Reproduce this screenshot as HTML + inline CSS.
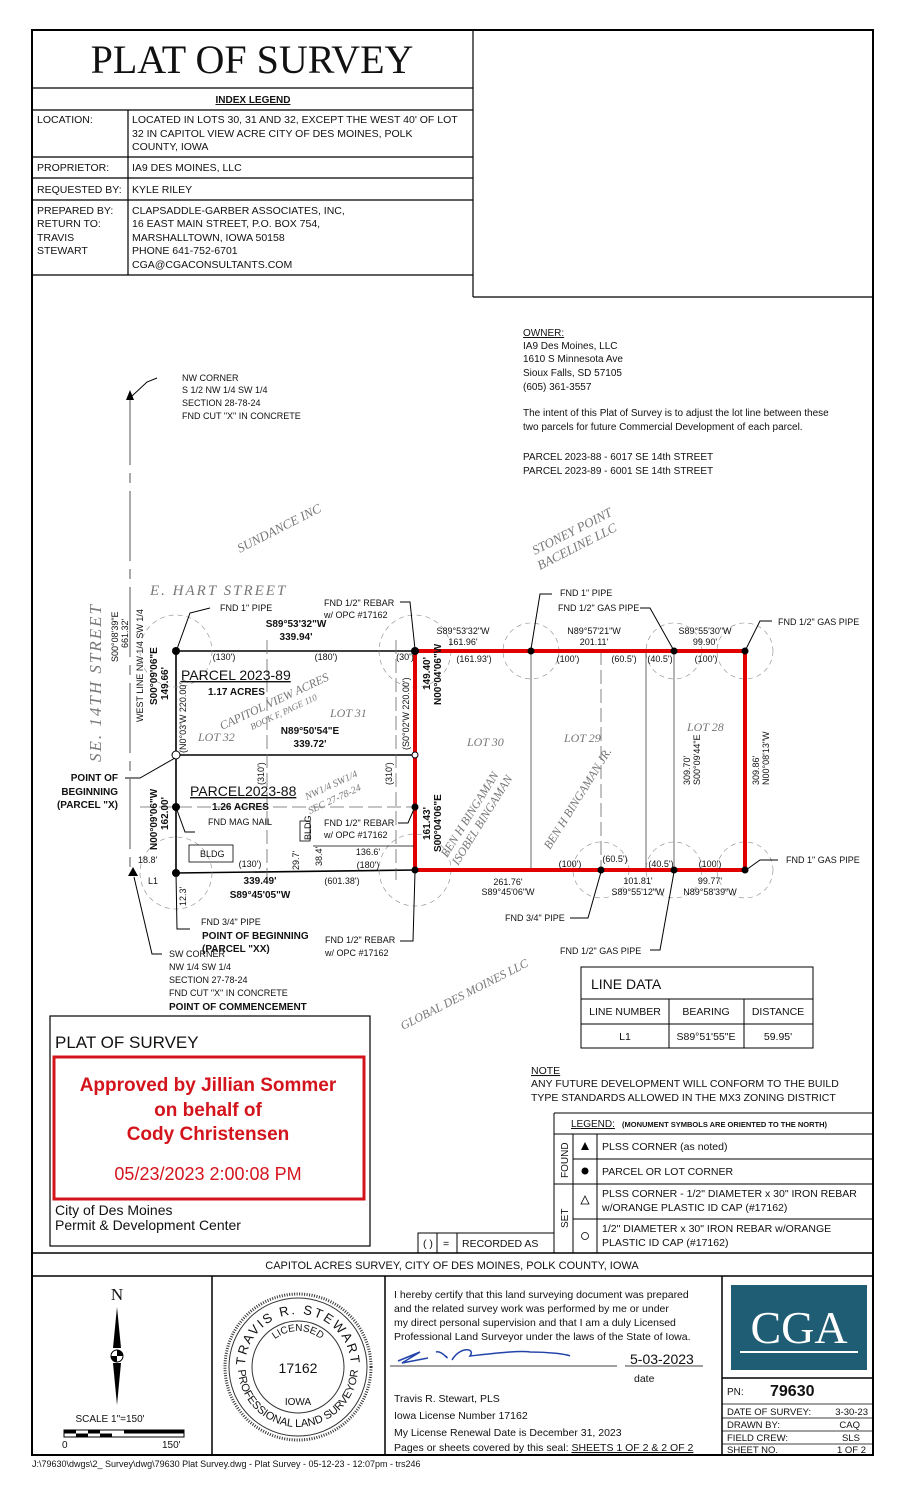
<!DOCTYPE html>
<html><head><meta charset="utf-8"><style>
html,body{margin:0;padding:0;background:#fff;}
svg{display:block;}
text{font-family:"Liberation Sans",sans-serif;fill:#111;}
.n{font-family:"Liberation Sans Narrow","Liberation Sans",sans-serif;font-size:9px;}
.b{font-weight:bold;}
.s{font-family:"Liberation Serif",serif;font-style:italic;fill:#777;}
</style></head><body>
<svg width="905" height="1500" viewBox="0 0 905 1500" xmlns="http://www.w3.org/2000/svg">
<rect x="0" y="0" width="905" height="1500" fill="#fff"/>
<rect x="32" y="30" width="841" height="1425" fill="none" stroke="#000" stroke-width="2"/>
<g stroke="#000" stroke-width="1.2" fill="none">
<line x1="473" y1="30" x2="473" y2="297"/>
<line x1="473" y1="297" x2="873" y2="297"/>
<line x1="32" y1="88" x2="473" y2="88"/>
<line x1="32" y1="110" x2="473" y2="110"/>
<line x1="32" y1="157" x2="473" y2="157"/>
<line x1="32" y1="178" x2="473" y2="178"/>
<line x1="32" y1="200" x2="473" y2="200"/>
<line x1="32" y1="275" x2="473" y2="275"/>
<line x1="128" y1="110" x2="128" y2="275"/>
</g>
<text x="252" y="73" text-anchor="middle" style="font-family:'Liberation Serif',serif;font-size:40px">PLAT OF SURVEY</text>
<text x="253" y="103" text-anchor="middle" class="b" font-size="10" text-decoration="underline">INDEX LEGEND</text>
<g font-size="10.5">
<text x="37" y="123">LOCATION:</text>
<text x="132" y="123">LOCATED IN LOTS 30, 31 AND 32, EXCEPT THE WEST 40' OF LOT</text>
<text x="132" y="137">32 IN CAPITOL VIEW ACRE CITY OF DES MOINES, POLK</text>
<text x="132" y="150">COUNTY, IOWA</text>
<text x="37" y="171">PROPRIETOR:</text>
<text x="132" y="171">IA9 DES MOINES, LLC</text>
<text x="37" y="193">REQUESTED BY:</text>
<text x="132" y="193">KYLE RILEY</text>
<text x="37" y="214">PREPARED BY:</text>
<text x="37" y="227">RETURN TO:</text>
<text x="37" y="241">TRAVIS</text>
<text x="37" y="254">STEWART</text>
<text x="132" y="214">CLAPSADDLE-GARBER ASSOCIATES, INC,</text>
<text x="132" y="227">16 EAST MAIN STREET, P.O. BOX 754,</text>
<text x="132" y="241">MARSHALLTOWN, IOWA 50158</text>
<text x="132" y="254">PHONE 641-752-6701</text>
<text x="132" y="268">CGA@CGACONSULTANTS.COM</text>
</g>
<g font-size="10">
<text x="523" y="336" text-decoration="underline">OWNER:</text>
<text x="523" y="349">IA9 Des Moines, LLC</text>
<text x="523" y="362">1610 S Minnesota Ave</text>
<text x="523" y="376">Sioux Falls, SD 57105</text>
<text x="523" y="390">(605) 361-3557</text>
<text x="523" y="416">The intent of this Plat of Survey is to adjust the lot line between these</text>
<text x="523" y="430">two parcels for future Commercial Development of each parcel.</text>
<text x="523" y="460">PARCEL 2023-88 - 6017 SE 14th STREET</text>
<text x="523" y="474">PARCEL 2023-89 - 6001 SE 14th STREET</text>
</g>
<line x1="130" y1="395" x2="130" y2="870" stroke="#555" stroke-width="1" stroke-dasharray="70,8,10,8"/>
<polygon points="130,390 126,400 134,400" fill="#000"/>
<polyline points="132,396 147,382 157,378" fill="none" stroke="#000"/>
<g class="n"><text x="182" y="381">NW CORNER</text><text x="182" y="393">S 1/2 NW 1/4 SW 1/4</text><text x="182" y="406">SECTION 28-78-24</text><text x="182" y="419">FND CUT "X" IN CONCRETE</text></g>
<text class="s" font-size="13" transform="translate(240,553) rotate(-27)">SUNDANCE INC</text>
<text class="s" font-size="13" transform="translate(535,555) rotate(-27)">STONEY POINT</text>
<text class="s" font-size="13" transform="translate(540,570) rotate(-27)">BACELINE LLC</text>
<text class="s" font-size="15" x="150" y="595" letter-spacing="2">E. HART STREET</text>
<text class="s" font-size="17" letter-spacing="2" transform="translate(101,762) rotate(-90)">SE. 14TH STREET</text>
<g class="n" font-size="8.5">
<text transform="translate(118,662) rotate(-90)">S00°08'39"E</text>
<text transform="translate(128,648) rotate(-90)">661.32'</text>
<text transform="translate(143,722) rotate(-90)">WEST LINE NW 1/4 SW 1/4</text>
</g>
<g stroke="#000" stroke-width="1.6" fill="none">
<line x1="176" y1="651" x2="415" y2="651"/>
<line x1="176" y1="651" x2="176" y2="873"/>
<line x1="176" y1="755" x2="415" y2="755"/>
<line x1="176" y1="873" x2="415" y2="870"/>
</g>
<g stroke="#666" stroke-width="0.8" fill="none" stroke-dasharray="14,5">
<line x1="267" y1="640" x2="267" y2="880"/>
<line x1="396" y1="640" x2="396" y2="880"/>
<line x1="140" y1="807" x2="415" y2="807"/>
<line x1="601" y1="651" x2="601" y2="870"/>
</g>
<g stroke="#888" stroke-width="0.6" fill="none" stroke-dasharray="5,4">
<circle cx="176" cy="651" r="36"/><circle cx="415" cy="651" r="36"/><circle cx="176" cy="873" r="36"/><circle cx="415" cy="870" r="36"/><circle cx="531" cy="651" r="28"/><circle cx="674" cy="651" r="28"/><circle cx="745" cy="651" r="28"/><circle cx="745" cy="870" r="28"/><circle cx="674" cy="870" r="28"/><circle cx="601" cy="870" r="28"/>
</g>
<g stroke="#444" stroke-width="0.8">
<line x1="531" y1="651" x2="531" y2="870"/><line x1="646" y1="651" x2="646" y2="870"/><line x1="674" y1="651" x2="674" y2="870"/>
</g>
<rect x="415" y="651" width="330" height="219" fill="none" stroke="#e00000" stroke-width="4"/>
<g fill="#000"><circle cx="176" cy="651" r="4"/><circle cx="415" cy="651" r="4"/><circle cx="176" cy="807" r="4"/><circle cx="176" cy="873" r="4"/><circle cx="415" cy="807" r="3.5"/><circle cx="415" cy="870" r="3.5"/><circle cx="531" cy="651" r="3.5"/><circle cx="674" cy="651" r="3.5"/><circle cx="745" cy="651" r="3.5"/><circle cx="601" cy="870" r="3.5"/><circle cx="674" cy="870" r="3.5"/><circle cx="745" cy="870" r="3.5"/>
<polygon points="133,867 128,876 138,876"/></g>
<circle cx="176" cy="755" r="4" fill="#fff" stroke="#000"/>
<circle cx="415" cy="755" r="3" fill="#fff" stroke="#000"/>
<g fill="none" stroke="#000" stroke-width="0.8">
<rect x="189" y="845" width="44" height="17"/>
<rect x="300" y="821" width="10" height="20"/>
<line x1="313" y1="846" x2="414" y2="846"/>
</g>
<g fill="none" stroke="#000" stroke-width="1">
<polyline points="177,649 190,613 210,608"/>
<polyline points="415,649 410,602 400,602"/>
<polyline points="531,649 540,594 552,594"/>
<polyline points="673,649 650,608 640,608"/>
<polyline points="746,649 760,621 772,621"/>
<polyline points="746,870 760,860 778,860"/>
<polyline points="601,872 588,918 570,918"/>
<polyline points="674,872 660,950 650,950"/>
<polyline points="415,872 413,941 400,941"/>
<polyline points="176,873 177,929 190,929"/>
<polyline points="134,877 152,954 162,954"/>
<polyline points="175,758 140,778 125,778"/>
<polyline points="177,810 185,832 195,832"/>
<polyline points="414,809 408,823 398,823"/>
</g>
<g class="n">
<text x="220" y="611">FND 1" PIPE</text>
<text x="324" y="606">FND 1/2" REBAR</text><text x="324" y="618">w/ OPC #17162</text>
<text x="296" y="627" class="b" font-size="10" text-anchor="middle">S89°53'32"W</text>
<text x="296" y="640" class="b" font-size="10" text-anchor="middle">339.94'</text>
<text x="224" y="660" text-anchor="middle">(130')</text><text x="326" y="660" text-anchor="middle">(180')</text><text x="405" y="660" text-anchor="middle">(30')</text>
<text x="310" y="734" class="b" font-size="10" text-anchor="middle">N89°50'54"E</text>
<text x="310" y="747" class="b" font-size="10" text-anchor="middle">339.72'</text>
<text x="208" y="825">FND MAG NAIL</text>
<text x="200" y="857">BLDG</text>
<text x="324" y="826">FND 1/2" REBAR</text><text x="324" y="838">w/ OPC #17162</text>
<text x="368" y="855" text-anchor="middle">136.6'</text>
<text x="368" y="868" text-anchor="middle">(180')</text>
<text x="250" y="867" text-anchor="middle">(130')</text>
<text x="342" y="884" text-anchor="middle">(601.38')</text>
<text x="260" y="884" class="b" font-size="10" text-anchor="middle">339.49'</text>
<text x="260" y="898" class="b" font-size="10" text-anchor="middle">S89°45'05"W</text>
<text x="138" y="863">18.8'</text>
<text x="148" y="884">L1</text>
<text x="201" y="925">FND 3/4" PIPE</text>
<text x="325" y="943">FND 1/2" REBAR</text><text x="325" y="956">w/ OPC #17162</text>
<text x="169" y="957">SW CORNER</text><text x="169" y="970">NW 1/4 SW 1/4</text><text x="169" y="983">SECTION 27-78-24</text><text x="169" y="996">FND CUT "X" IN CONCRETE</text>
<text transform="translate(186,906) rotate(-90)">12.3'</text>
<text transform="translate(299,870) rotate(-90)">29.7'</text>
<text transform="translate(322,866) rotate(-90)">38.4'</text>
<text transform="translate(311,840) rotate(-90)">BLDG</text>
<text transform="translate(186,753) rotate(-90)">(N0°03'W 220.00')</text>
<text transform="translate(409,750) rotate(-90)">(S0°02'W 220.00')</text>
<text transform="translate(264,785) rotate(-90)">(310')</text>
<text transform="translate(392,785) rotate(-90)">(310')</text>
</g>
<g class="b" font-size="10">
<text transform="translate(157,705) rotate(-90)">S00°09'06"E</text>
<text transform="translate(168,700) rotate(-90)">149.66'</text>
<text transform="translate(157,850) rotate(-90)">N00°09'06"W</text>
<text transform="translate(168,830) rotate(-90)">162.00'</text>
<text transform="translate(430,690) rotate(-90)">149.40'</text>
<text transform="translate(441,705) rotate(-90)">N00°04'06"W</text>
<text transform="translate(430,840) rotate(-90)">161.43'</text>
<text transform="translate(441,852) rotate(-90)">S00°04'06"E</text>
<text x="118" y="781" text-anchor="end">POINT OF</text>
<text x="118" y="795" text-anchor="end">BEGINNING</text>
<text x="118" y="808" text-anchor="end">(PARCEL "X)</text>
<text x="202" y="939">POINT OF BEGINNING</text>
<text x="202" y="952">(PARCEL "XX)</text>
<text x="169" y="1010">POINT OF COMMENCEMENT</text>
</g>
<text x="181" y="680" font-size="14" text-decoration="underline">PARCEL 2023-89</text>
<text x="208" y="695" font-size="10" class="b">1.17 ACRES</text>
<text x="190" y="796" font-size="14" text-decoration="underline">PARCEL2023-88</text>
<text x="212" y="810" font-size="10" class="b">1.26 ACRES</text>
<text class="s" font-size="12" transform="translate(222,730) rotate(-25)">CAPITOL VIEW ACRES</text>
<text class="s" font-size="9" transform="translate(252,730) rotate(-25)">BOOK F, PAGE 110</text>
<text class="s" font-size="12" x="198" y="741">LOT  32</text>
<text class="s" font-size="12" x="330" y="717">LOT  31</text>
<text class="s" font-size="10" transform="translate(307,800) rotate(-25)">NW1/4  SW1/4</text>
<text class="s" font-size="10" transform="translate(310,814) rotate(-25)">SEC  27-78-24</text>
<g class="n">
<text x="463" y="634" text-anchor="middle">S89°53'32"W</text><text x="463" y="645" text-anchor="middle">161.96'</text>
<text x="594" y="634" text-anchor="middle">N89°57'21"W</text><text x="594" y="645" text-anchor="middle">201.11'</text>
<text x="705" y="634" text-anchor="middle">S89°55'30"W</text><text x="705" y="645" text-anchor="middle">99.90'</text>
<text x="560" y="596">FND 1" PIPE</text>
<text x="558" y="611">FND 1/2" GAS PIPE</text>
<text x="778" y="625">FND 1/2" GAS PIPE</text>
<text x="786" y="863">FND 1" GAS PIPE</text>
<text x="474" y="662" text-anchor="middle">(161.93')</text>
<text x="568" y="662" text-anchor="middle">(100')</text>
<text x="624" y="662" text-anchor="middle">(60.5')</text>
<text x="660" y="662" text-anchor="middle">(40.5')</text>
<text x="706" y="662" text-anchor="middle">(100')</text>
<text x="570" y="867" text-anchor="middle">(100')</text>
<text x="615" y="862" text-anchor="middle">(60.5')</text>
<text x="661" y="867" text-anchor="middle">(40.5')</text>
<text x="710" y="867" text-anchor="middle">(100')</text>
<text x="508" y="885" text-anchor="middle">261.76'</text><text x="508" y="895" text-anchor="middle">S89°45'06"W</text>
<text x="638" y="884" text-anchor="middle">101.81'</text><text x="638" y="895" text-anchor="middle">S89°55'12"W</text>
<text x="710" y="884" text-anchor="middle">99.77'</text><text x="710" y="895" text-anchor="middle">N89°58'39"W</text>
<text x="505" y="921">FND 3/4" PIPE</text>
<text x="560" y="954">FND 1/2" GAS PIPE</text>
<text transform="translate(690,785) rotate(-90)">309.70'</text>
<text transform="translate(700,785) rotate(-90)">S00°09'44"E</text>
<text transform="translate(759,785) rotate(-90)">309.86'</text>
<text transform="translate(769,785) rotate(-90)">N00°08'13"W</text>
</g>
<text class="s" font-size="12" x="467" y="746">LOT  30</text>
<text class="s" font-size="12" x="564" y="742">LOT  29</text>
<text class="s" font-size="12" x="687" y="731">LOT  28</text>
<text class="s" font-size="12" transform="translate(447,858) rotate(-58)">BEN H BINGAMAN</text>
<text class="s" font-size="12" transform="translate(458,866) rotate(-58)">ISOBEL BINGAMAN</text>
<text class="s" font-size="12" transform="translate(550,850) rotate(-58)">BEN H BINGAMAN JR.</text>
<text class="s" font-size="12" transform="translate(403,1030) rotate(-27)">GLOBAL DES MOINES LLC</text>
<g stroke="#000" stroke-width="1" fill="none">
<rect x="581" y="967" width="232" height="81"/>
<line x1="581" y1="999" x2="813" y2="999"/><line x1="581" y1="1024" x2="813" y2="1024"/>
<line x1="669" y1="999" x2="669" y2="1048"/><line x1="744" y1="999" x2="744" y2="1048"/>
</g>
<text x="591" y="989" font-size="14">LINE DATA</text>
<g font-size="10.5" text-anchor="middle"><text x="625" y="1015">LINE NUMBER</text><text x="706" y="1015">BEARING</text><text x="778" y="1015">DISTANCE</text>
<text x="625" y="1040">L1</text><text x="706" y="1040">S89°51'55"E</text><text x="778" y="1040">59.95'</text></g>
<g font-size="10.5"><text x="531" y="1074" text-decoration="underline">NOTE</text>
<text x="531" y="1087">ANY FUTURE DEVELOPMENT WILL CONFORM TO THE BUILD</text>
<text x="531" y="1101">TYPE STANDARDS ALLOWED IN THE MX3 ZONING DISTRICT</text></g>
<g stroke="#000" stroke-width="1" fill="none">
<line x1="554" y1="1113" x2="873" y2="1113"/><line x1="554" y1="1113" x2="554" y2="1253"/>
<line x1="554" y1="1134" x2="873" y2="1134"/><line x1="573" y1="1134" x2="573" y2="1253"/>
<line x1="597" y1="1134" x2="597" y2="1253"/>
<line x1="573" y1="1159" x2="873" y2="1159"/><line x1="554" y1="1184" x2="873" y2="1184"/>
<line x1="573" y1="1219" x2="873" y2="1219"/>
<rect x="418" y="1233" width="136" height="20"/>
<line x1="437" y1="1233" x2="437" y2="1253"/><line x1="457" y1="1233" x2="457" y2="1253"/>
</g>
<text x="571" y="1127" font-size="10" text-decoration="underline">LEGEND:</text>
<text x="622" y="1127" font-size="7.5" class="b">(MONUMENT SYMBOLS ARE ORIENTED TO THE NORTH)</text>
<text transform="translate(568,1178) rotate(-90)" font-size="10">FOUND</text>
<text transform="translate(568,1228) rotate(-90)" font-size="10">SET</text>
<polygon points="585,1142 581,1150 589,1150" fill="#000"/>
<circle cx="585" cy="1171" r="3.5" fill="#000"/>
<polygon points="585,1196 581,1204 589,1204" fill="none" stroke="#000" stroke-width="0.8"/>
<circle cx="585" cy="1236" r="3.5" fill="none" stroke="#000" stroke-width="0.8"/>
<g font-size="10.5"><text x="602" y="1150">PLSS CORNER (as noted)</text><text x="602" y="1175">PARCEL OR LOT CORNER</text>
<text x="602" y="1197">PLSS CORNER - 1/2" DIAMETER x 30" IRON REBAR</text><text x="602" y="1211">w/ORANGE PLASTIC ID CAP (#17162)</text>
<text x="602" y="1232">1/2" DIAMETER x 30" IRON REBAR w/ORANGE</text><text x="602" y="1246">PLASTIC ID CAP (#17162)</text>
<text x="423" y="1247">( )</text><text x="443" y="1247">=</text><text x="462" y="1247">RECORDED AS</text></g>
<rect x="50" y="1016" width="320" height="230" fill="none" stroke="#000" stroke-width="1.2"/>
<text x="55" y="1048" font-size="17">PLAT OF SURVEY</text>
<rect x="54" y="1057" width="310" height="142" fill="none" stroke="#d4141c" stroke-width="3"/>
<g text-anchor="middle">
<text x="208" y="1091" font-size="19" class="b" style="fill:#d4141c">Approved by Jillian Sommer</text>
<text x="208" y="1116" font-size="19" class="b" style="fill:#d4141c">on behalf of</text>
<text x="208" y="1140" font-size="19" class="b" style="fill:#d4141c">Cody Christensen</text>
<text x="208" y="1180" font-size="18" style="fill:#d4141c">05/23/2023 2:00:08 PM</text>
</g>
<text x="55" y="1215" font-size="14">City of Des Moines</text>
<text x="55" y="1230" font-size="14">Permit &amp; Development Center</text>
<g stroke="#000" stroke-width="1.5" fill="none">
<line x1="32" y1="1253" x2="873" y2="1253"/><line x1="32" y1="1276" x2="873" y2="1276"/>
<line x1="212" y1="1276" x2="212" y2="1455"/><line x1="385" y1="1276" x2="385" y2="1455"/><line x1="722" y1="1276" x2="722" y2="1455"/>
<line x1="722" y1="1378" x2="873" y2="1378"/>
</g>
<g stroke="#000" stroke-width="0.8"><line x1="722" y1="1404" x2="873" y2="1404"/><line x1="722" y1="1418" x2="873" y2="1418"/><line x1="722" y1="1431" x2="873" y2="1431"/><line x1="722" y1="1444" x2="873" y2="1444"/>
<line x1="390" y1="1366" x2="617" y2="1366"/><line x1="625" y1="1366" x2="703" y2="1366"/></g>
<text x="452" y="1269" font-size="11" text-anchor="middle">CAPITOL ACRES SURVEY, CITY OF DES MOINES, POLK COUNTY, IOWA</text>
<text x="117" y="1300" text-anchor="middle" style="font-family:'Liberation Serif',serif;font-size:17px">N</text>
<polygon points="117,1307 113,1348 121,1348" fill="#000"/>
<polygon points="117,1405 113,1363 121,1363" fill="#000"/>
<circle cx="117" cy="1356" r="6" fill="#fff" stroke="#000"/>
<path d="M117,1350 A6,6 0 0 1 123,1356 L117,1356Z M117,1362 A6,6 0 0 1 111,1356 L117,1356Z" fill="#000"/>
<text x="110" y="1422" font-size="10" text-anchor="middle">SCALE 1"=150'</text>
<rect x="64" y="1430" width="120" height="7" fill="none" stroke="#000"/>
<g fill="#000"><rect x="64" y="1430" width="12" height="3.5"/><rect x="88" y="1430" width="12" height="3.5"/><rect x="76" y="1433.5" width="12" height="3.5"/><rect x="100" y="1433.5" width="12" height="3.5"/><rect x="124" y="1430" width="60" height="3.5"/></g>
<text x="62" y="1448" font-size="10">0</text><text x="162" y="1448" font-size="10">150'</text>
<circle cx="298" cy="1367" r="73" fill="none" stroke="#333" stroke-width="3" stroke-dasharray="1,1.5"/>
<circle cx="298" cy="1367" r="69" fill="none" stroke="#333" stroke-width="1"/>
<circle cx="298" cy="1367" r="46" fill="none" stroke="#333" stroke-width="1"/>
<defs><path id="arc1" d="M245,1367 A53,53 0 0 1 351,1367"/><path id="arc2" d="M238,1367 A60,60 0 0 0 358,1367"/><path id="arc3" d="M262,1367 A36,36 0 0 1 334,1367"/></defs>
<text font-size="13"><textPath href="#arc1" startOffset="50%" text-anchor="middle" letter-spacing="2">TRAVIS R. STEWART</textPath></text>
<text font-size="11"><textPath href="#arc2" startOffset="50%" text-anchor="middle">PROFESSIONAL LAND SURVEYOR</textPath></text>
<text font-size="10"><textPath href="#arc3" startOffset="50%" text-anchor="middle">LICENSED</textPath></text>
<text x="298" y="1373" font-size="14" text-anchor="middle">17162</text>
<text x="298" y="1405" font-size="10" text-anchor="middle">IOWA</text>
<g font-size="10.5">
<text x="394" y="1298">I hereby certify that this land surveying document was prepared</text>
<text x="394" y="1312">and the related survey work was performed by me or under</text>
<text x="394" y="1326">my direct personal supervision and that I am a duly Licensed</text>
<text x="394" y="1340">Professional Land Surveyor under the laws of the State of Iowa.</text>
<text x="634" y="1382">date</text>
<text x="394" y="1402">Travis R. Stewart, PLS</text>
<text x="394" y="1419">Iowa License Number 17162</text>
<text x="394" y="1436">My License Renewal Date is December 31, 2023</text>
<text x="394" y="1451">Pages or sheets covered by this seal: <tspan text-decoration="underline">SHEETS 1 OF 2 &amp; 2 OF 2</tspan></text>
</g>
<path d="M398,1361 L420,1352 L402,1363 L428,1358 M436,1352 C442,1350 450,1362 446,1356 M452,1360 C460,1346 476,1348 470,1356 C488,1354 520,1350 530,1352 C548,1352 566,1354 570,1356" fill="none" stroke="#2244aa" stroke-width="1.5"/>
<text x="630" y="1364" font-size="14">5-03-2023</text>
<rect x="731" y="1285" width="136" height="85" fill="#1f5d75"/>
<text x="799" y="1343" text-anchor="middle" style="font-family:'Liberation Serif',serif;font-size:46px;fill:#fff">CGA</text>
<line x1="740" y1="1352" x2="858" y2="1352" stroke="#fff" stroke-width="2"/>
<text x="727" y="1395" font-size="10">PN:</text><text x="770" y="1396" font-size="16" class="b">79630</text>
<g font-size="9.5"><text x="727" y="1415">DATE OF SURVEY:</text><text x="868" y="1415" text-anchor="end">3-30-23</text>
<text x="727" y="1428">DRAWN BY:</text><text x="860" y="1428" text-anchor="end">CAQ</text>
<text x="727" y="1441">FIELD CREW:</text><text x="860" y="1441" text-anchor="end">SLS</text>
<text x="727" y="1453">SHEET NO.</text><text x="866" y="1453" text-anchor="end">1 OF 2</text></g>
<text x="32" y="1467" class="n" font-size="8.5">J:\79630\dwgs\2_ Survey\dwg\79630 Plat Survey.dwg - Plat Survey -  05-12-23 - 12:07pm - trs246</text>
</svg>
</body></html>
